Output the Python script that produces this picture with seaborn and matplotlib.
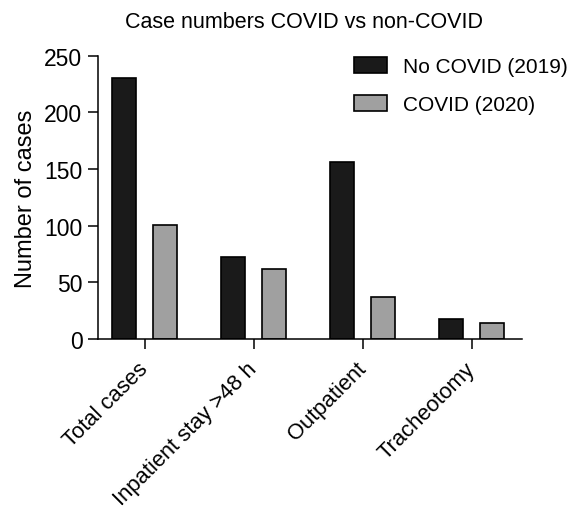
import matplotlib
matplotlib.use("Agg")
import matplotlib.pyplot as plt
import pandas as pd
import seaborn as sns

# Data
categorias = ["Total cases", "Inpatient stay >48 h", "Outpatient", "Tracheotomy"]
grupos = ["No COVID (2019)", "COVID (2020)"]
no_covid_2019 = [230, 72, 156, 18]
covid_2020 = [101, 62, 37, 14]

NEGRO = "#1a1a1a"
GRIS = "#a0a0a0"

df = pd.DataFrame({
    "categoria": categorias * 2,
    "grupo": [grupos[0]] * len(categorias) + [grupos[1]] * len(categorias),
    "casos": no_covid_2019 + covid_2020,
})

sns.set_theme(style="ticks")
plt.rcParams["font.family"] = ["Liberation Sans", "DejaVu Sans"]
plt.rcParams["text.color"] = "black"

fig = plt.figure(figsize=(5.69, 5.10), dpi=100)
ax = fig.add_axes([0.1717, 0.3333, 0.7453, 0.5555])

sns.barplot(data=df, x="categoria", y="casos", hue="grupo",
            palette=[NEGRO, GRIS], width=0.75, gap=0.413,
            edgecolor="black", linewidth=1.2, ax=ax)

ax.set_xlim(-0.43, 3.46)
ax.set_ylim(0, 250)
ax.set_yticks([0, 50, 100, 150, 200, 250])
ax.set_xlabel("")
ax.set_ylabel("Number of cases", fontsize=17, color="black", labelpad=5)

sns.despine(ax=ax)
for lado in ["left", "bottom"]:
    ax.spines[lado].set_linewidth(1.1)
    ax.spines[lado].set_color("black")
ax.tick_params(axis="both", direction="out", length=7, width=1.1,
               colors="black", labelsize=16.5, pad=4)
ax.tick_params(axis="x", pad=12, labelsize=15.8)
plt.setp(ax.get_xticklabels(), rotation=45, ha="right", va="center",
         rotation_mode="anchor")

leg = ax.legend(title=None, frameon=False, fontsize=15,
                loc="upper left", bbox_to_anchor=(354 / 569, 1 - 58 / 510),
                bbox_transform=fig.transFigure, borderpad=0, borderaxespad=0,
                handlelength=1.6, handleheight=0.8, handletextpad=0.75,
                labelspacing=0.9)
for t in leg.get_texts():
    t.set_color("black")

fig.text(0.535, 1 - 22 / 510, "Case numbers COVID vs non-COVID",
         ha="center", va="center", fontsize=15.5, color="black")

fig.savefig("out.png", dpi=100)
